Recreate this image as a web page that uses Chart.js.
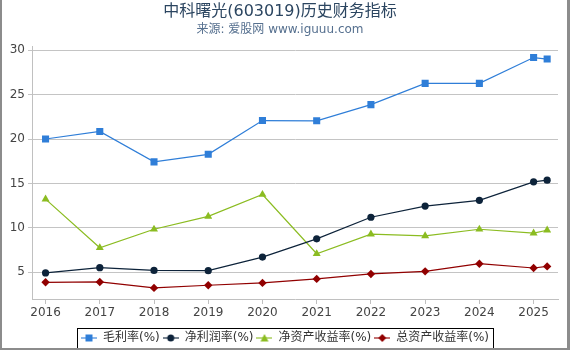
<!DOCTYPE html>
<html><head><meta charset="utf-8">
<script src="https://cdn.jsdelivr.net/npm/chart.js@4.4.1/dist/chart.umd.min.js"></script>
<style>html,body{margin:0;padding:0;background:#fff}#wrap{width:570px;height:350px;position:relative}</style>
</head><body><div id="wrap"><canvas id="c" width="570" height="350"></canvas></div>
<script>
const xValues = [2016, 2017, 2018, 2019, 2020, 2021, 2022, 2023, 2024, 2025, 2025.25];
const xTickLabels = [2016, 2017, 2018, 2019, 2020, 2021, 2022, 2023, 2024, 2025];
const yTickLabels = [5, 10, 15, 20, 25, 30];
const grossMargin = [20.0, 20.85, 17.43, 18.28, 22.08, 22.05, 23.87, 26.26, 26.26, 29.17, 29.0];
const netMargin = [4.93, 5.53, 5.22, 5.19, 6.72, 8.77, 11.2, 12.46, 13.1, 15.18, 15.37];
const roe = [13.24, 7.76, 9.85, 11.3, 13.76, 7.09, 9.29, 9.1, 9.85, 9.41, 9.74];
const roa = [3.88, 3.92, 3.25, 3.55, 3.81, 4.26, 4.82, 5.11, 5.97, 5.49, 5.67];
const seriesNames = ['毛利率(%)', '净利润率(%)', '净资产收益率(%)', '总资产收益率(%)'];
const seriesColors = ['#2f7ed8', '#0d233a', '#8bbc21', '#910000'];

const FONT = "'DejaVu Sans', 'Noto Sans CJK SC', sans-serif";

function marker(ctx, style, x, y, color) {
  ctx.fillStyle = color;
  ctx.beginPath();
  if (style === 'rect') { ctx.rect(x - 3.5, y - 3.5, 7, 7); }
  else if (style === 'circle') { ctx.arc(x, y, 3.5, 0, Math.PI * 2); }
  else if (style === 'triangle') { ctx.moveTo(x, y - 4); ctx.lineTo(x + 4, y + 3.5); ctx.lineTo(x - 4, y + 3.5); ctx.closePath(); }
  else { ctx.moveTo(x, y - 4); ctx.lineTo(x + 4, y); ctx.lineTo(x, y + 4); ctx.lineTo(x - 4, y); ctx.closePath(); }
  ctx.fill();
}
function legendIcon(color, style) {
  const c = document.createElement('canvas');
  c.width = 16; c.height = 10;
  const ctx = c.getContext('2d');
  ctx.globalAlpha = 0.55;
  ctx.strokeStyle = color; ctx.lineWidth = 2;
  ctx.beginPath(); ctx.moveTo(0, 5); ctx.lineTo(16, 5); ctx.stroke();
  ctx.globalAlpha = 1;
  marker(ctx, style, 8, 5, color);
  return c;
}
const styles = ['rect', 'circle', 'triangle', 'rectRot'];
const radii = [5, 3.6, 4.6, 4.2];
const values = [grossMargin, netMargin, roe, roa];

const datasets = values.map((arr, i) => ({
  label: seriesNames[i],
  data: arr.map((v, j) => ({ x: xValues[j], y: v })),
  borderColor: seriesColors[i],
  backgroundColor: seriesColors[i],
  pointBackgroundColor: seriesColors[i],
  pointBorderColor: seriesColors[i],
  borderWidth: 1.2,
  pointStyle: styles[i],
  pointRadius: radii[i],
  pointBorderWidth: 0,
  tension: 0,
  legendIcon: legendIcon(seriesColors[i], styles[i])
}));

const framePlugin = {
  id: 'frame',
  afterLayout(chart) {
    const lg = chart.legend;
    if (lg) { lg.left += 5; lg.right += 5; }
  },
  afterDraw(chart) {
    const ctx = chart.ctx;
    const lg = chart.legend;
    if (lg && lg.legendHitBoxes && lg.legendHitBoxes.length) {
      const hb = lg.legendHitBoxes;
      const l = hb[0].left - 4;
      const last = hb[hb.length - 1];
      const r = last.left + last.width + 4;
      const t = hb[0].top - 4;
      const b = hb[0].top + hb[0].height + 4;
      ctx.save();
      ctx.strokeStyle = '#000'; ctx.lineWidth = 1;
      ctx.strokeRect(Math.round(l) + 0.5, Math.round(t) + 0.5, Math.round(r - l), Math.round(b - t));
      ctx.restore();
    }
    ctx.save();
    ctx.fillStyle = '#8c8c8c';
    ctx.fillRect(0, 0, 2, 350);
    ctx.fillRect(567, 0, 3, 350);
    ctx.fillRect(0, 348, 570, 2);
    ctx.restore();
  }
};

new Chart(document.getElementById('c'), {
  type: 'line',
  data: { datasets },
  options: {
    responsive: false,
    devicePixelRatio: 1,
    animation: false,
    layout: { padding: { left: 2, right: 12, top: 0, bottom: -4 } },
    plugins: {
      title: { display: true, text: '中科曙光(603019)历史财务指标', color: '#2b4560',
        font: { family: FONT, size: 16, weight: 'normal' }, padding: { top: 2, bottom: 0 } },
      subtitle: { display: true, text: '来源: 爱股网 www.iguuu.com', color: '#56708f',
        font: { family: FONT, size: 12, weight: 'normal' }, padding: { top: 1, bottom: 10 } },
      legend: {
        position: 'bottom',
        labels: {
          usePointStyle: true, pointStyleWidth: 16, boxHeight: 10,
          font: { family: FONT, size: 12 }, color: '#333', padding: 3,
          generateLabels(chart) {
            return chart.data.datasets.map((ds, i) => ({
              text: ds.label, pointStyle: ds.legendIcon, fillStyle: ds.borderColor,
              strokeStyle: ds.borderColor, lineWidth: 0, hidden: false, datasetIndex: i,
              fontColor: '#333'
            }));
          }
        }
      },
      tooltip: { enabled: false }
    },
    scales: {
      x: {
        type: 'linear', min: 2015.75, max: 2025.45,
        afterBuildTicks: s => { s.ticks = xTickLabels.map(v => ({ value: v })); },
        afterFit: s => { s.height = 30; },
        ticks: { callback: v => String(v), font: { family: FONT, size: 12 }, color: '#444',
          maxRotation: 0, autoSkip: false, padding: 2 },
        grid: { drawOnChartArea: false, drawTicks: true, tickLength: 5, color: '#c0c0c0' },
        border: { color: '#c0c0c0' }
      },
      y: {
        min: 2, max: 30.4,
        afterBuildTicks: s => { s.ticks = yTickLabels.map(v => ({ value: v })); },
        afterFit: s => { s.width = 30; },
        ticks: { font: { family: FONT, size: 12 }, color: '#444', padding: 3 },
        grid: { color: '#c4c4c4', tickLength: 4 },
        border: { color: '#c0c0c0' }
      }
    }
  },
  plugins: [framePlugin]
});
</script>
</body></html>
